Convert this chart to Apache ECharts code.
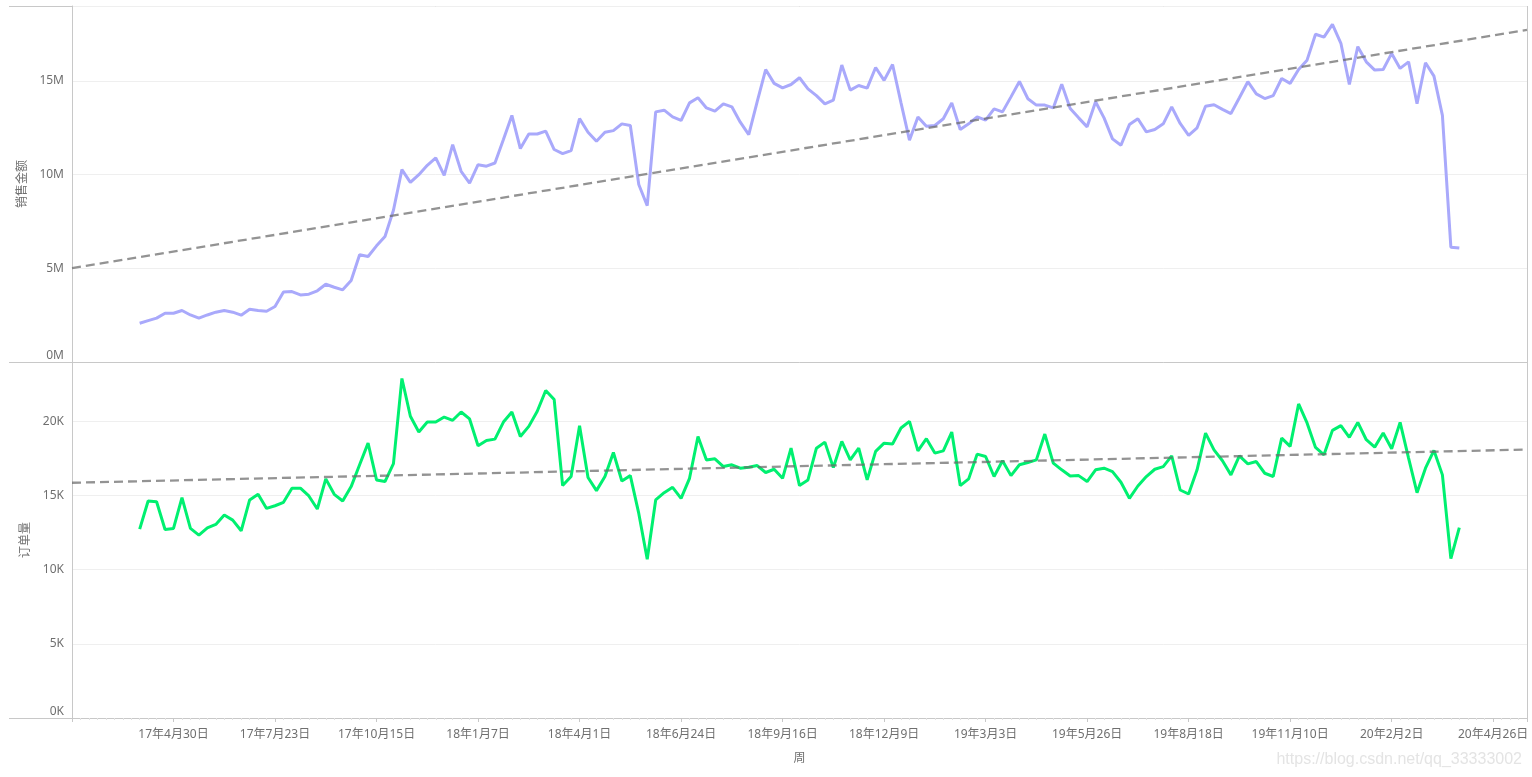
<!DOCTYPE html>
<html>
<head>
<meta charset="utf-8">
<style>
  html, body { margin: 0; padding: 0; background: #fff; }
  #chart { width: 1532px; height: 777px; }
</style>
<script src="https://cdn.jsdelivr.net/npm/echarts@6/dist/echarts.min.js"></script>
</head>
<body>
<div id="chart"></div>
<script>
// 周序号：0 = 17年2月5日，每 12 周一个刻度标签
const firstWeek = 8;      // 17年4月2日
const lastAxisWeek = 172; // 20年5月24日
const tickLabels = ['17年4月30日', '17年7月23日', '17年10月15日', '18年1月7日', '18年4月1日',
  '18年6月24日', '18年9月16日', '18年12月9日', '19年3月3日', '19年5月26日',
  '19年8月18日', '19年11月10日', '20年2月2日', '20年4月26日'];

// 销售金额（百万）
const salesM = [
  2.07, 2.21, 2.34, 2.60, 2.60, 2.75, 2.51, 2.34, 2.51, 2.66,
  2.75, 2.66, 2.50, 2.82, 2.75, 2.71, 2.96, 3.73, 3.76, 3.58,
  3.62, 3.80, 4.15, 3.99, 3.85, 4.35, 5.72, 5.63, 6.20, 6.70,
  8.10, 10.27, 9.59, 10.00, 10.50, 10.89, 9.96, 11.60, 10.18, 9.55,
  10.53, 10.45, 10.62, 11.87, 13.16, 11.39, 12.17, 12.17, 12.32, 11.34,
  11.12, 11.28, 12.99, 12.26, 11.78, 12.26, 12.35, 12.71, 12.62, 9.47,
  8.34, 13.35, 13.44, 13.08, 12.89, 13.83, 14.10, 13.56, 13.39, 13.78,
  13.62, 12.80, 12.14, 13.90, 15.61, 14.87, 14.63, 14.81, 15.17, 14.58,
  14.22, 13.78, 13.98, 15.85, 14.51, 14.76, 14.62, 15.72, 15.03, 15.88,
  13.83, 11.84, 13.08, 12.58, 12.62, 12.98, 13.83, 12.41, 12.71, 13.08,
  12.91, 13.51, 13.35, 14.15, 14.97, 14.05, 13.71, 13.71, 13.56, 14.83,
  13.53, 13.03, 12.55, 13.89, 13.03, 11.91, 11.57, 12.67, 12.98, 12.28,
  12.41, 12.71, 13.62, 12.73, 12.10, 12.50, 13.65, 13.73, 13.48, 13.26,
  14.10, 14.96, 14.31, 14.06, 14.22, 15.13, 14.87, 15.61, 16.11, 17.49,
  17.34, 18.02, 17.01, 14.81, 16.83, 16.02, 15.58, 15.61, 16.47, 15.67,
  16.02, 13.78, 15.97, 15.26, 13.16, 6.13, 6.08
];

// 订单量（千）
const ordersK = [
  12.73, 14.63, 14.58, 12.71, 12.78, 14.85, 12.78, 12.33, 12.82, 13.05,
  13.68, 13.34, 12.62, 14.70, 15.08, 14.13, 14.31, 14.54, 15.49, 15.49,
  14.97, 14.09, 16.12, 15.08, 14.63, 15.60, 17.07, 18.53, 16.05, 15.94,
  17.15, 22.89, 20.34, 19.28, 19.95, 19.95, 20.29, 20.07, 20.63, 20.16,
  18.35, 18.71, 18.80, 19.95, 20.63, 18.98, 19.66, 20.68, 22.08, 21.47,
  15.67, 16.28, 19.71, 16.21, 15.33, 16.28, 17.90, 15.98, 16.34, 13.79,
  10.70, 14.70, 15.19, 15.55, 14.81, 16.16, 18.98, 17.40, 17.47, 16.95,
  17.07, 16.84, 16.91, 17.02, 16.55, 16.77, 16.16, 18.19, 15.67, 16.05,
  18.19, 18.60, 16.88, 18.65, 17.40, 18.19, 16.05, 17.97, 18.53, 18.47,
  19.55, 20.00, 18.01, 18.83, 17.86, 18.01, 19.28, 15.67, 16.12, 17.79,
  17.63, 16.28, 17.34, 16.34, 17.07, 17.22, 17.40, 19.14, 17.18, 16.73,
  16.32, 16.34, 15.94, 16.73, 16.84, 16.61, 15.89, 14.81, 15.64, 16.28,
  16.77, 16.95, 17.67, 15.37, 15.10, 16.73, 19.21, 18.08, 17.34, 16.39,
  17.67, 17.13, 17.29, 16.50, 16.28, 18.87, 18.31, 21.17, 19.89, 18.24,
  17.74, 19.39, 19.71, 18.92, 19.93, 18.76, 18.26, 19.21, 18.15, 19.93,
  17.52, 15.19, 16.84, 18.04, 16.39, 10.74, 12.84
];

const toPoints = vals => vals.map((v, i) => [firstWeek + i, v]);

// 最小二乘趋势线
function trendLine(points) {
  const n = points.length;
  let sx = 0, sy = 0, sxx = 0, sxy = 0;
  points.forEach(([x, y]) => { sx += x; sy += y; sxx += x * x; sxy += x * y; });
  const b = (n * sxy - sx * sy) / (n * sxx - sx * sx);
  const a = (sy - b * sx) / n;
  return [[0, a], [lastAxisWeek, a + b * lastAxisWeek]];
}

const salesPts = toPoints(salesM);
const orderPts = toPoints(ordersK);

const FONT = '"Noto Sans", "Noto Sans CJK SC", sans-serif';
const LABEL = '#6f6f6f';
const BORDER = '#c8c8c8';
const TREND = 'rgba(105,105,105,0.72)';

function xAxisFor(gridIndex, showLabels) {
  return {
    type: 'value', gridIndex, min: 0, max: lastAxisWeek, interval: 12,
    splitLine: { show: false },
    axisLine: { show: true, lineStyle: { color: BORDER, width: 1 } },
    axisTick: { show: showLabels, length: 4, lineStyle: { color: BORDER } },
    minorTick: { show: showLabels, splitNumber: 12, length: 2, lineStyle: { color: '#e2e2e2' } },
    axisLabel: {
      show: showLabels, color: LABEL, fontSize: 12, fontFamily: FONT, margin: 11,
      formatter: v => (v % 12 === 0 && v > 0) ? (tickLabels[v / 12 - 1] || '') : ''
    },
    name: showLabels ? '周' : '', nameLocation: 'middle', nameGap: 35,
    nameTextStyle: { color: LABEL, fontSize: 12, fontFamily: FONT }
  };
}

function yAxisFor(gridIndex, max, unit, title) {
  return {
    type: 'value', gridIndex, min: 0, max, interval: 5,
    axisLine: { show: true, lineStyle: { color: BORDER } },
    axisTick: { show: false },
    splitLine: { show: true, lineStyle: { color: '#efefef' } },
    axisLabel: {
      color: LABEL, fontSize: 12, fontFamily: FONT, margin: 8,
      showMaxLabel: false, verticalAlignMinLabel: 'bottom',
      formatter: v => v + unit
    },
    name: title, nameLocation: 'middle', nameGap: 37, nameRotate: 90,
    nameTextStyle: { color: LABEL, fontSize: 12, fontFamily: FONT }
  };
}

const chart = echarts.init(document.getElementById('chart'));

chart.setOption({
  animation: false,
  backgroundColor: '#fff',
  textStyle: { fontFamily: FONT },
  grid: [
    { left: 72, right: 5, top: 6, height: 356 },
    { left: 72, right: 5, top: 362, height: 356 }
  ],
  xAxis: [xAxisFor(0, false), xAxisFor(1, true)],
  yAxis: [yAxisFor(0, 19, 'M', '销售金额'), yAxisFor(1, 24, 'K', '订单量')],
  series: [
    {
      type: 'line', xAxisIndex: 0, yAxisIndex: 0, data: salesPts,
      showSymbol: false, lineStyle: { color: '#a9a9fb', width: 3 }, z: 2
    },
    {
      type: 'line', xAxisIndex: 0, yAxisIndex: 0, data: trendLine(salesPts),
      showSymbol: false, lineStyle: { color: TREND, width: 2.3, type: [9, 5] }, z: 3
    },
    {
      type: 'line', xAxisIndex: 1, yAxisIndex: 1, data: orderPts,
      showSymbol: false, lineStyle: { color: '#00f070', width: 3 }, z: 2
    },
    {
      type: 'line', xAxisIndex: 1, yAxisIndex: 1, data: trendLine(orderPts),
      showSymbol: false, lineStyle: { color: TREND, width: 2.3, type: [9, 5] }, z: 3
    }
  ],
  graphic: [
    { type: 'line', shape: { x1: 9, y1: 6.5, x2: 1527, y2: 6.5 }, style: { stroke: BORDER, lineWidth: 1 } },
    { type: 'line', shape: { x1: 9, y1: 362.5, x2: 72, y2: 362.5 }, style: { stroke: BORDER, lineWidth: 1 } },
    { type: 'line', shape: { x1: 9, y1: 718.5, x2: 72, y2: 718.5 }, style: { stroke: BORDER, lineWidth: 1 } },
    { type: 'line', shape: { x1: 1527.5, y1: 6, x2: 1527.5, y2: 718 }, style: { stroke: BORDER, lineWidth: 1 } },
    {
      type: 'text', right: 10, top: 752,
      style: { text: 'https://blog.csdn.net/qq_33333002', fill: '#e4e4e4', font: '16px "Liberation Sans", Arial, sans-serif' }
    }
  ]
});
</script>
</body>
</html>
